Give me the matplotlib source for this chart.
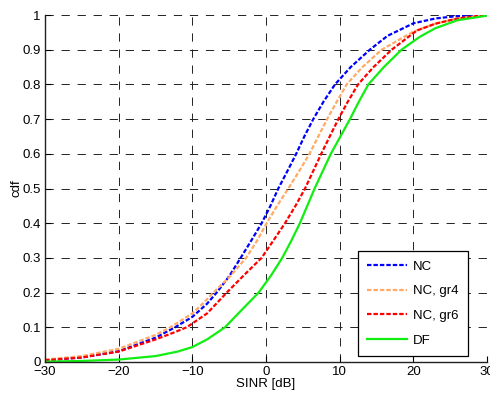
import matplotlib
matplotlib.use("Agg")
import matplotlib.pyplot as plt

plt.rcParams['font.family'] = ['Liberation Sans', 'DejaVu Sans']

# NC
sinr_nc = [-30, -25, -20, -15, -12.35, -10, -8, -6.7, -5, -3.44, -2, -0.59, 0.6, 1.67, 2.9, 4.1,
           5.2, 6.42, 7.8, 9.37, 11.5, 14.1, 16.5, 20, 23, 26, 30]
cdf_nc = [0.005, 0.013, 0.031, 0.07, 0.1, 0.13, 0.168, 0.2, 0.247, 0.3, 0.35, 0.4, 0.45, 0.5, 0.55, 0.6,
          0.65, 0.7, 0.75, 0.8, 0.85, 0.9, 0.94, 0.976, 0.99, 0.997, 1.0]
# NC, gr4
sinr_gr4 = [-30, -25, -20, -15, -13, -10, -8.5, -7.15, -5, -2.7, -1.2, 0.09, 1.5, 3.03, 4.5, 5.9,
            7.1, 8.3, 9.6, 10.95, 13.1, 15.7, 20, 23, 26, 30]
cdf_gr4 = [0.007, 0.017, 0.038, 0.078, 0.1, 0.14, 0.17, 0.2, 0.244, 0.3, 0.35, 0.4, 0.45, 0.5, 0.55, 0.6,
           0.65, 0.7, 0.75, 0.8, 0.85, 0.9, 0.952, 0.975, 0.99, 1.0]
# NC, gr6
sinr_gr6 = [-30, -25, -20, -15, -12.5, -10.77, -8, -5.33, -3.0, -0.6, 1.0, 2.58, 4.0, 5.3, 6.4, 7.5,
            8.65, 9.82, 11.1, 12.5, 14.6, 17.06, 20.45, 23, 26, 30]
cdf_gr6 = [0.005, 0.013, 0.03, 0.065, 0.085, 0.1, 0.14, 0.2, 0.25, 0.3, 0.35, 0.4, 0.45, 0.5, 0.55, 0.6,
           0.65, 0.7, 0.75, 0.8, 0.85, 0.9, 0.955, 0.975, 0.99, 1.0]
# DF
sinr_df = [-30, -25, -20, -15, -12, -10, -8, -5.57, -3.3, -1.0, 0.7, 2.2, 3.45, 4.6, 5.6, 6.6,
           7.7, 8.8, 10.1, 11.4, 12.6, 13.9, 16, 18.4, 20.9, 23, 26, 30]
cdf_df = [0.001, 0.003, 0.007, 0.017, 0.03, 0.043, 0.065, 0.1, 0.15, 0.2, 0.25, 0.3, 0.35, 0.4, 0.45, 0.5,
          0.55, 0.6, 0.65, 0.7, 0.75, 0.8, 0.85, 0.9, 0.9375, 0.962, 0.985, 0.998]

labels = ["NC", "NC, gr4", "NC, gr6", "DF"]
xticks = [-30, -20, -10, 0, 10, 20, 30]
yticks = [0, 0.1, 0.2, 0.3, 0.4, 0.5, 0.6, 0.7, 0.8, 0.9, 1]
ytick_labels = ["0", "0.1", "0.2", "0.3", "0.4", "0.5", "0.6", "0.7", "0.8", "0.9", "1"]

fig = plt.figure(figsize=(4.9, 4.03), dpi=100)
ax = fig.add_axes([45/490, 41/403, 442/490, 347/403])

dash = (2.0, 0.9)
ax.plot(sinr_nc, cdf_nc, color='#0000ff', lw=1.6, dashes=dash, label=labels[0])
ax.plot(sinr_gr4, cdf_gr4, color='#ffaa66', lw=1.6, dashes=dash, label=labels[1])
ax.plot(sinr_gr6, cdf_gr6, color='#ff0000', lw=1.6, dashes=dash, label=labels[2])
ax.plot(sinr_df, cdf_df, color='#11ee11', lw=1.6, label=labels[3])

ax.set_xlim(-30, 30)
ax.set_ylim(0, 1)
ax.set_xticks(xticks)
ax.set_yticks(yticks)
ax.set_yticklabels(ytick_labels)
ax.tick_params(direction='in', length=4, labelsize=9.5, colors='black', width=0.8, pad=3)
ax.grid(True, color='#222222', linestyle=(0, (8.5, 8.0)), linewidth=0.7)
for s in ['top', 'right']:
    ax.spines[s].set_visible(False)
for s in ['left', 'bottom']:
    ax.spines[s].set_linewidth(1.0)
    ax.spines[s].set_color('#222222')

ax.set_xlabel("SINR [dB]", fontsize=9.5, labelpad=0)
ax.set_ylabel("cdf", fontsize=9.5, labelpad=0)

leg = ax.legend(loc='lower right', bbox_to_anchor=(0.957, 0.017), borderaxespad=0,
                fontsize=9.5, fancybox=False, edgecolor='black', framealpha=1,
                labelspacing=0.95, handlelength=3.0, handletextpad=0.5, borderpad=0.7)
leg.get_frame().set_linewidth(0.9)

fig.savefig("out.png", dpi=100)
